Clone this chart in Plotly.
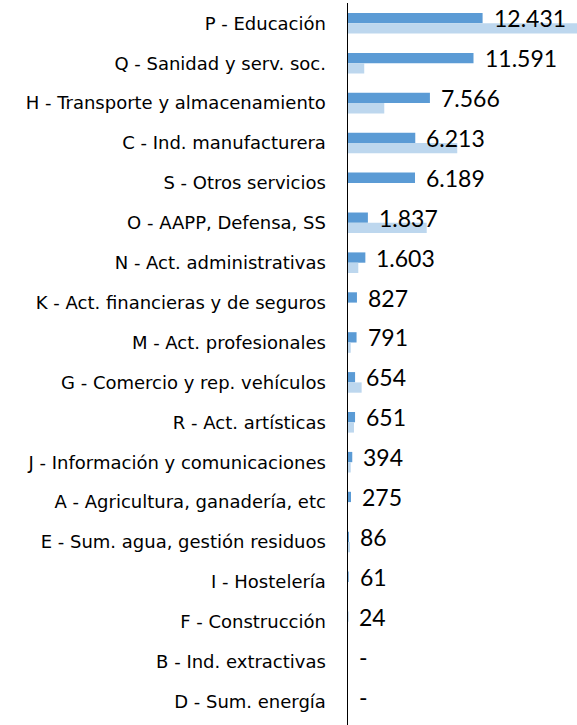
import plotly.graph_objects as go

categories = [
    "P - Educación", "Q - Sanidad y serv. soc.", "H - Transporte y almacenamiento",
    "C - Ind. manufacturera", "S - Otros servicios", "O - AAPP, Defensa, SS",
    "N - Act. administrativas", "K - Act. financieras y de seguros",
    "M - Act. profesionales", "G - Comercio y rep. vehículos", "R - Act. artísticas",
    "J - Información y comunicaciones", "A - Agricultura, ganadería, etc",
    "E - Sum. agua, gestión residuos", "I - Hostelería", "F - Construcción",
    "B - Ind. extractivas", "D - Sum. energía",
]
serie_principal = [12431, 11591, 7566, 6213, 6189, 1837, 1603, 827, 791, 654, 651, 394, 275, 86, 61, 24, 0, 0]
serie_secundaria = [22000, 1500, 3350, 10090, 0, 7270, 950, 0, 250, 1260, 550, 250, 0, 180, 0, 0, 0, 0]


def fmt(v):
    if v == 0:
        return "-"
    return f"{v:,}".replace(",", ".")


fig = go.Figure()
fig.add_trace(go.Bar(y=categories, x=serie_principal, orientation="h",
                     marker=dict(color="#5B9BD5", line=dict(width=0)), hoverinfo="skip"))
fig.add_trace(go.Bar(y=categories, x=serie_secundaria, orientation="h",
                     marker=dict(color="#BDD7EE", line=dict(width=0)), hoverinfo="skip"))

for c, v in zip(categories, serie_principal):
    fig.add_annotation(x=v, y=c, text=fmt(v), showarrow=False, xanchor="left",
                       yanchor="middle", xshift=9, yshift=5,
                       font=dict(family="Lato", size=23, color="#000000"))

fig.update_layout(
    width=577, height=725,
    margin=dict(l=348, r=0, t=3, b=0),
    barmode="group", bargap=0.484, bargroupgap=0,
    showlegend=False,
    plot_bgcolor="white", paper_bgcolor="white",
    font=dict(family="DejaVu Sans", color="#000000"),
)
fig.update_xaxes(range=[0, 21150], showticklabels=False, showgrid=False,
                 zeroline=False, showline=False, ticks="")
fig.update_yaxes(range=[17.587, -0.509], showgrid=False, zeroline=False,
                 showline=True, linecolor="#000000", linewidth=1.5, ticks="",
                 ticklabelstandoff=17, tickfont=dict(family="DejaVu Sans", size=18, color="#000000"))

fig.write_html("out.html",
               config={"displayModeBar": False, "staticPlot": True},
               post_script="document.body.style.margin='0';document.body.style.overflow='hidden';")
